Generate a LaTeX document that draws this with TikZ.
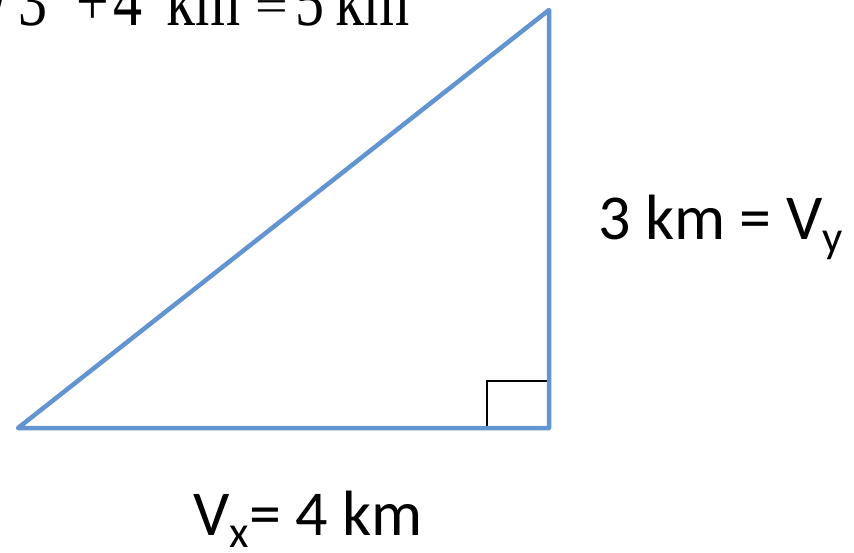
\documentclass[tikz,border=0pt]{standalone}
\usepackage{fontspec}
\setmainfont{Carlito}
\newfontfamily\serif{Liberation Serif}
\definecolor{legblue}{RGB}{98,148,210}
\newcommand{\putat}[2]{\makebox[#1pt][l]{#2}}
\newcommand{\hisup}[1]{\raisebox{34pt}{\fontsize{34}{36}\selectfont #1}}
\begin{document}
\begin{tikzpicture}[x=1pt,y=1pt,
  leg/.style={draw=legblue,line width=4.5pt,line join=round},
  rightmark/.style={draw=black,line width=1.5pt},
  lbl/.style={font=\fontsize{64}{70}\selectfont,inner sep=0pt,anchor=base west}]
\useasboundingbox (0,0) rectangle (854,552);
\clip (0,0) rectangle (854,552);
\coordinate (A) at (18,124);
\coordinate (B) at (549,124);
\coordinate (C) at (549,542);
\coordinate (R1) at (487,124);
\coordinate (R2) at (549,171);
\draw[rightmark] (R1) |- (R2);
\draw[leg] (A) -- (B) -- (C) -- cycle;
\node[lbl] (vy) at (598,312) {3 km = V\textsubscript{y}};
\node[lbl] (vx) at (193,17) {V\textsubscript{x}= 4 km};
\node[inner sep=0pt,anchor=base west,font=\serif\fontsize{58}{64}\selectfont] (hyp) at (-22,526)
  {\scalebox{1}[1.25]{\putat{40}{√}\putat{58}{3\hisup{2}}\putat{37}{+}\putat{53}{4\hisup{2}}\putat{89}{km}\putat{40}{\raisebox{3.5pt}{\scalebox{1}[0.63]{=}}}\putat{40}{5}km}};
\end{tikzpicture}
\end{document}
